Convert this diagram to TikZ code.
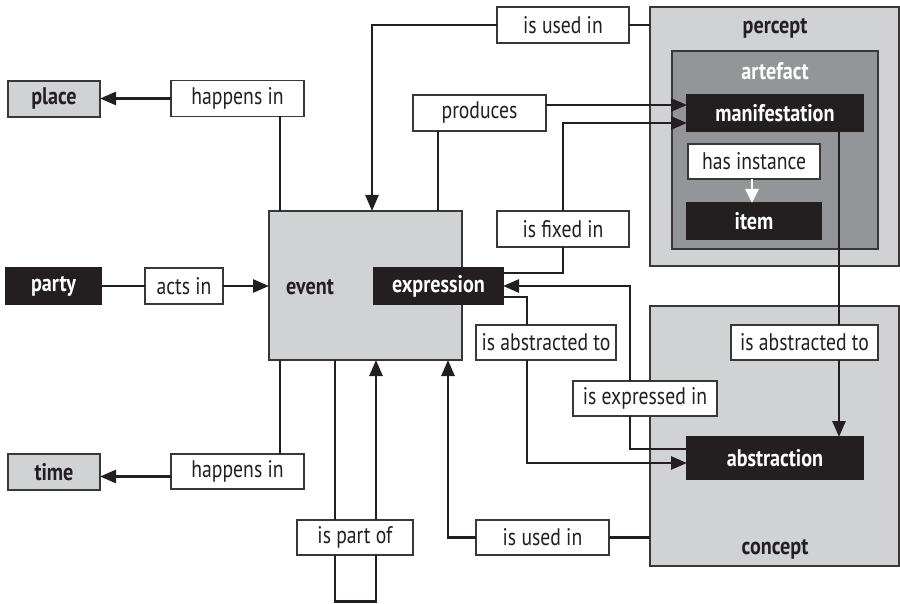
\documentclass[tikz,border=0pt]{standalone}
\usepackage{fontspec}
\setmainfont{PT Sans}[FakeStretch=0.82]
\newfontfamily\bfam{PT Sans}[FakeStretch=0.84]
\usetikzlibrary{arrows.meta}
\definecolor{ink}{HTML}{231F20}
\definecolor{linec}{HTML}{3A3739}
\definecolor{lgray}{HTML}{D1D2D4}
\definecolor{dgray}{HTML}{939598}
\newcommand\lblfont{\fontsize{24}{26}\selectfont}
\newcommand\bfont{\bfam\fontsize{24}{26}\selectfont\bfseries}
\tikzset{
  box/.style={inner sep=0pt, outer sep=0pt, line width=1.3pt},
  lbl/.style={box, draw=linec, fill=white, font=\lblfont, text=ink},
  blk/.style={box, draw=ink, fill=ink, font=\bfont, text=white},
  gry/.style={box, draw=linec, fill=lgray, font=\bfont, text=ink},
  conn/.style={line width=2.7pt, draw=ink},
  arr/.style={conn, -{Triangle[length=16pt,width=13pt]}},
  warr/.style={line width=2.6pt, draw=white, -{Triangle[length=14pt,width=13pt]}},
  title/.style={inner sep=0pt, font=\bfont, text=ink},
}
\begin{document}
\begin{tikzpicture}[x=1pt,y=-1pt]
\useasboundingbox (0,0) rectangle (900,604);
% containers
\node[gry, minimum width=249pt, minimum height=259pt] (percept) at (774.5,136.5) {};
\node[box, draw=linec, fill=dgray, minimum width=206pt, minimum height=198pt] (artefact) at (775,150) {};
\node[gry, minimum width=249pt, minimum height=260pt] (concept) at (774.5,436) {};
\node[gry, minimum width=193pt, minimum height=149pt] (event) at (365.5,285.5) {};
\node[title] (perceptlbl) at (775,28) {percept};
\node[title, text=white] (artefactlbl) at (775,71) {artefact};
\node[title] (conceptlbl) at (775,549) {concept};
\node[title] (eventlbl) at (310,287) {event};
% entities
\node[gry, minimum width=92pt, minimum height=36pt] (place) at (54,99) {place};
\node[gry, minimum width=92pt, minimum height=36pt] (time) at (54,472) {time};
\node[blk, minimum width=95pt, minimum height=36pt] (party) at (53.5,286) {party};
\node[blk, minimum width=129pt, minimum height=36pt] (expression) at (438.5,286) {expression};
\node[blk, minimum width=176pt, minimum height=36pt] (manifestation) at (775,113) {manifestation};
\node[blk, minimum width=134pt, minimum height=36pt] (item) at (754,221) {item};
\node[blk, minimum width=176pt, minimum height=42pt] (abstraction) at (775,458) {abstraction};
% relation labels
\node[lbl, minimum width=133pt, minimum height=36pt] (happensTop) at (237.5,98.5) {happens in};
\node[lbl, minimum width=133pt, minimum height=35pt] (happensBot) at (237.5,471.5) {happens in};
\node[lbl, minimum width=78pt, minimum height=36pt] (actsin) at (184,286) {acts in};
\node[lbl, minimum width=132pt, minimum height=36pt] (usedTop) at (563,25) {is used in};
\node[lbl, minimum width=133pt, minimum height=36pt] (produces) at (479.5,113) {produces};
\node[lbl, minimum width=132pt, minimum height=35pt] (hasinstance) at (754,161.5) {has instance};
\node[lbl, minimum width=132pt, minimum height=36pt] (fixed) at (563,229) {is fixed in};
\node[lbl, minimum width=140pt, minimum height=35pt] (absL) at (546,342.5) {is abstracted to};
\node[lbl, minimum width=147pt, minimum height=35pt] (absR) at (804.5,342.5) {is abstracted to};
\node[lbl, minimum width=144pt, minimum height=35pt] (expr) at (645,398.5) {is expressed in};
\node[lbl, minimum width=133pt, minimum height=35pt] (usedBot) at (542.5,537.5) {is used in};
\node[lbl, minimum width=116pt, minimum height=35pt] (partof) at (355,537.5) {is part of};
\coordinate (loopL) at (335,601.5);
\coordinate (loopR) at (376,601.5);
% connectors
\draw[arr] (happensTop.west) -- (happensTop.west -| place.east);
\draw[conn] ([xshift=42.5pt]happensTop.south) -- ([xshift=42.5pt]happensTop.south |- event.north);
\draw[conn] ([xshift=42.5pt]happensBot.north) -- ([xshift=42.5pt]happensBot.north |- event.south);
\draw[arr] ([yshift=-5pt]happensBot.west) -- ([yshift=-5pt]happensBot.west -| time.east);
\draw[conn] (party.east) -- (actsin.west);
\draw[arr] (actsin.east) -- (event.west |- actsin.east);
\draw[conn] (percept.west |- usedTop.east) -- (usedTop.east);
\draw[arr] (usedTop.west) -| ([xshift=6.5pt]event.north);
\draw[conn] ([xshift=-41.5pt]produces.south) -- ([xshift=-41.5pt]produces.south |- event.north);
\draw[arr] ([yshift=8pt]produces.east) -- ([yshift=8pt]produces.east -| manifestation.west);
\draw[conn] ([yshift=13pt]expression.east) -| (fixed.south);
\draw[arr] (fixed.north) |- ([yshift=-10pt]manifestation.west);
\draw[arr] ([xshift=-15pt]expr.north) |- (expression.east);
\draw[conn] ([xshift=-15pt]expr.south) |- ([yshift=9pt]abstraction.west);
\draw[conn] ([yshift=-11pt]expression.east) -| ([xshift=-19pt]absL.north);
\draw[arr] ([xshift=-19pt]absL.south) |- ([yshift=-5pt]abstraction.west);
\draw[conn] ([xshift=64pt]manifestation.south) -- ([xshift=64pt]manifestation.south |- absR.north);
\draw[arr] ([xshift=34.5pt]absR.south) -- ([xshift=34.5pt]absR.south |- abstraction.north);
\draw[conn] (concept.west |- usedBot.east) -- (usedBot.east);
\draw[arr] (usedBot.west) -| ([xshift=82.5pt]event.south);
\draw[conn] ([xshift=-20pt]partof.north) -- ([xshift=-20pt]partof.north |- event.south);
\draw[conn] ([xshift=-20pt]partof.south) -- (loopL) -- (loopR) -- ([xshift=21pt]partof.south);
\draw[arr] ([xshift=21pt]partof.north) -- ([xshift=21pt]partof.north |- event.south);
\draw[warr] ([xshift=-2pt]hasinstance.south) -- ([xshift=-2pt]hasinstance.south |- item.north);
\end{tikzpicture}
\end{document}
